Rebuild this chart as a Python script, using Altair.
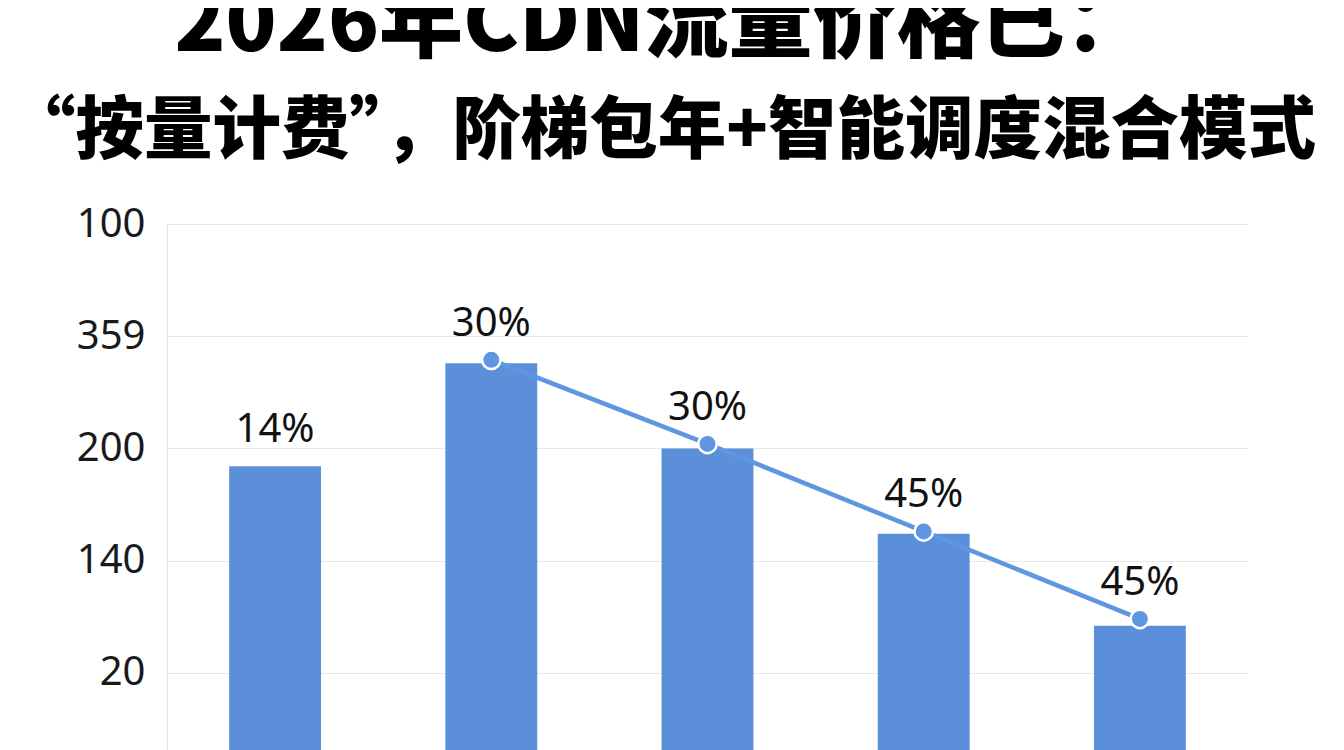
import altair as alt
import pandas as pd

# ---- data ----
categories = ["1", "2", "3", "4", "5"]
bar_values = [2.84, 3.76, 3.00, 2.24, 1.42]
line_values = [None, 3.79, 3.04, 2.26, 1.48]
pct_labels = ["14%", "30%", "30%", "45%", "45%"]
tick_values = [1, 2, 3, 4, 5]
tick_labels = ["20", "140", "200", "359", "100"]

title_line1 = "2026年CDN流量价格已："
title_line2 = "“按量计费”，阶梯包年+智能调度混合模式"

df = pd.DataFrame({
    "cat": categories,
    "bar": bar_values,
    "line": line_values,
    "pct": pct_labels,
})
df["label_at"] = [l if l is not None else b for l, b in zip(line_values, bar_values)]

label_expr = " : ".join(
    f"datum.value == {v} ? '{t}'" for v, t in zip(tick_values, tick_labels)
) + " : ''"

BAR = "#5b8fda"
LINE = "#5e96e2"

x = alt.X("cat:N", sort=categories, axis=None,
          scale=alt.Scale(paddingInner=0.575, paddingOuter=0.2875))
y_scale = alt.Scale(domain=[0, 5], nice=False, zero=True)

base = alt.Chart(df)

bars = base.mark_bar(color=BAR).encode(
    x=x,
    y=alt.Y("bar:Q", scale=y_scale,
            axis=alt.Axis(values=tick_values, labelExpr=label_expr, title=None,
                          ticks=False, labelPadding=22, labelFontSize=40,
                          labelFont="Noto Sans", labelColor="#1a1a1a",
                          grid=True, gridColor="#e8e8e8", gridWidth=1,
                          domain=True, domainColor="#e6e6e6", domainWidth=1)),
)

line = base.transform_filter("datum.line != null").mark_line(
    color=LINE, strokeWidth=4.5
).encode(x=x, y=alt.Y("line:Q", scale=y_scale))

points = base.transform_filter("datum.line != null").mark_point(
    shape="circle", filled=True, fill=LINE, size=340, stroke="white",
    strokeWidth=2.5, opacity=1
).encode(x=x, y=alt.Y("line:Q", scale=y_scale))

labels = base.mark_text(
    font="Noto Sans", fontSize=40, color="#111111", baseline="alphabetic",
    align="center", dy=-24
).encode(x=x, y=alt.Y("label_at:Q", scale=y_scale), text="pct:N")

chart = alt.layer(bars, line, points, labels).properties(
    width=1081,
    height=561,
    autosize=alt.AutoSizeParams(type="none"),
    padding={"left": 159, "top": 216, "right": 88, "bottom": 10},
    title=alt.TitleParams(
        text=title_line1,
        subtitle=title_line2,
        font="Noto Sans CJK SC", fontSize=84, fontWeight=900, color="#000000",
        subtitleFont="Noto Sans CJK SC", subtitleFontSize=68.5,
        subtitleFontWeight=900, subtitleColor="#000000",
        anchor="middle", offset=37, subtitlePadding=30, dx=-46,
    ),
).configure(background="white").configure_view(stroke=None)

chart.save("out.html", embed_options={"renderer": "svg", "actions": False})
